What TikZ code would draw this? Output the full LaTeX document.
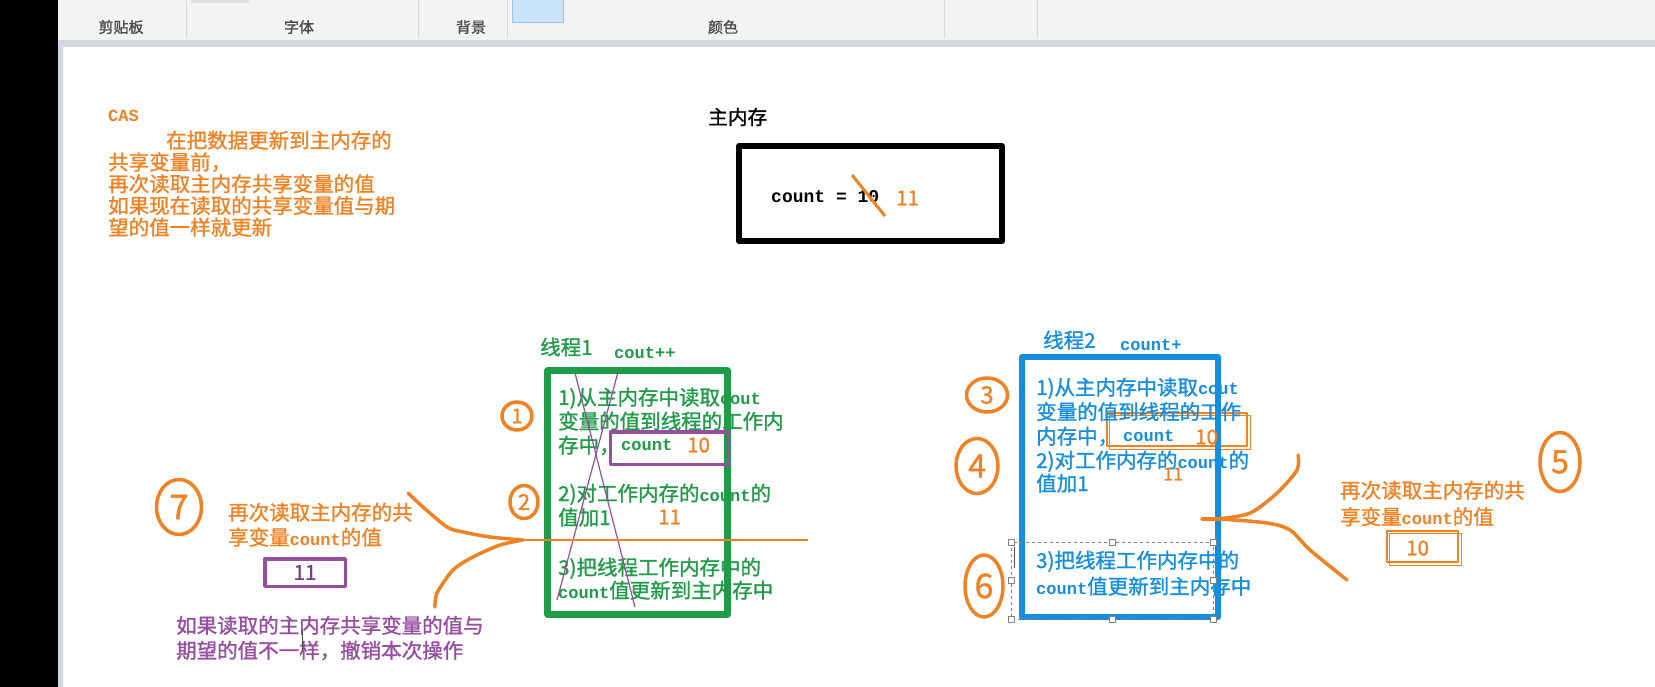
\documentclass[tikz,border=0pt]{standalone}
\usepackage{fontspec}
\setmainfont[FakeBold=1.2]{Noto Sans CJK SC}
\setmonofont[Scale=0.83]{Liberation Mono}
\usetikzlibrary{shapes.geometric}
\definecolor{horange}{RGB}{240,130,35}
\definecolor{tgreen}{RGB}{32,155,72}
\definecolor{tblue}{RGB}{22,142,222}
\definecolor{tpurple}{RGB}{150,78,160}
\definecolor{barfill}{RGB}{243,243,243}
\definecolor{barline}{RGB}{210,216,226}
\definecolor{btnfill}{RGB}{204,228,247}
\definecolor{btnline}{RGB}{150,196,238}
\newcommand\code[1]{\texttt{\bfseries #1}}
\tikzset{
  txt/.style={inner sep=0pt, align=left, anchor=north west, font=\fontsize{20.5}{24}\selectfont},
  lbl/.style={inner sep=0pt, anchor=west, font=\fontsize{20.5}{24}\selectfont},
  hand/.style={ellipse, draw=horange, line width=3.5pt, text=horange, inner sep=0pt, font=\fontsize{26}{26}\selectfont},
  stroke/.style={draw=horange, line width=3.5pt, line cap=round},
  obox/.style={draw=horange, line width=1.2pt, inner sep=0pt},
  handle/.style={draw=gray, fill=white, line width=0.8pt, minimum size=6pt, inner sep=0pt},
}
\begin{document}
\begin{tikzpicture}[x=1pt,y=-1pt,line join=round]
	%==khung ngoai
	\useasboundingbox (0,0) rectangle (1655,687);
	\fill[white] (0,0) rectangle (1655,687);
	\fill[barfill] (58,0) rectangle (1655,40);
	\fill[barline] (58,40) rectangle (1655,47);
	\fill[barline] (58,40) rectangle (63,687);
	\fill[black] (0,0) rectangle (58,687);
	\fill[black!12] (191,0) rectangle (249,3);
	\filldraw[fill=btnfill, draw=btnline] (512,-2) rectangle (563,22);
	\foreach \x in {186,418,507,944,1037} \draw[black!15] (\x,0)--(\x,38);
	\foreach \x/\t in {121/剪贴板,299/字体,471/背景,723/颜色}
		\node[inner sep=0pt, text=black!70, font=\mdseries\fontsize{15}{15}\selectfont] (bar\x) at (\x,27) {\t};
	%==CAS
	\node[lbl, text=horange] (cas) at (108,116) {\code{CAS}};
	\node[txt, text=horange, font=\fontsize{20.5}{21.75}\selectfont] (casbody) at (108,130.5) {\hspace*{58pt}在把数据更新到主内存的\\共享变量前，\\再次读取主内存共享变量的值\\如果现在读取的共享变量值与期\\望的值一样就更新};
	%==main memory
	\node[lbl, font=\fontsize{19.7}{22}\selectfont] (memname) at (708,117) {主内存};
	\node[draw, line width=6pt, minimum width=263pt, minimum height=95pt, inner sep=0pt] (mem) at (870.5,193.5) {};
	\node[lbl, font=\fontsize{21.7}{24}\selectfont] (cnt) at (771,197) {\code{count = 10}};
	\draw[horange, line width=3pt] (852,175)--(885,216);
	\node[lbl, text=horange] (newv) at (896,198) {11};
	%==thread 1
	\node[lbl, text=tgreen] (t1name) at (540,347) {线程1};
	\node[lbl, text=tgreen] (t1op) at (614,353) {\code{cout++}};
	\node[draw=tgreen, line width=6.5pt, minimum width=180pt, minimum height=244pt, inner sep=0pt] (th1) at (637.5,492.5) {};
	\node[txt, text=tgreen] (t1a) at (558,387.5) {1)从主内存中读取\code{cout}\\变量的值到线程的工作内\\存中，};
	\node[draw=tpurple, line width=3.5pt, minimum width=118pt, minimum height=32.5pt, inner sep=0pt] (t1box) at (669.5,448) {};
	\node[lbl, text=tgreen] (t1cnt) at (621,445) {\code{count}};
	\node[lbl, text=horange] (t1v) at (687,445) {10};
	\node[txt, text=tgreen] (t1b) at (558,483.5) {2)对工作内存的\code{count}的\\值加1};
	\node[lbl, text=horange] (t1inc) at (658,517) {11};
	\node[txt, text=tgreen, font=\fontsize{20.5}{23}\selectfont] (t1c) at (558,557.5) {3)把线程工作内存中的\\\code{count}值更新到主内存中};
	\draw[tpurple, line width=1.2pt] (575,373)--(635,607);
	\draw[tpurple, line width=1.2pt] (618,372)--(557,600);
	%==thread 2
	\node[lbl, text=tblue] (t2name) at (1043,340) {线程2};
	\node[lbl, text=tblue] (t2op) at (1120,345) {\code{count+}};
	\node[obox, minimum width=140pt, minimum height=33pt] (t2box) at (1177,429.5) {};
	\draw[horange, line width=1.2pt] ([shift={(3,3)}]t2box.north west) rectangle ([shift={(3,3)}]t2box.south east);
	\node[draw=tblue, line width=6pt, minimum width=196pt, minimum height=260pt, inner sep=0pt] (th2) at (1120,487) {};
	\node[txt, text=tblue, font=\fontsize{20.5}{24.5}\selectfont] (t2a) at (1036,377.5) {1)从主内存中读取\code{cout}\\变量的值到线程的工作\\内存中，};
	\node[lbl, text=tblue] (t2cnt) at (1123,436) {\code{count}};
	\node[lbl, text=horange] (t2v) at (1195,437) {10};
	\node[txt, text=tblue, font=\fontsize{20.5}{23}\selectfont] (t2b) at (1036,450.5) {2)对工作内存的\code{count}的\\值加1};
	\node[lbl, text=horange, font=\fontsize{18}{20}\selectfont] (t2inc) at (1163,474) {11};
	\node[txt, text=tblue, font=\fontsize{20.5}{26}\selectfont] (t2c) at (1036,550.5) {3)把线程工作内存中的\\\code{count}值更新到主内存中};
	\draw[gray, dashed, line width=0.8pt] (1011,542) rectangle (1213,619);
	\foreach \p [count=\i] in {(1011,542),(1112,542),(1213,542),(1011,580),(1213,580),(1011,619),(1112,619),(1213,619)}
		\node[handle] (hd\i) at \p {};
	\draw[black!70, line width=1pt] (1014,547)--(1014,568);
	%==left notes
	\node[txt, text=horange, font=\fontsize{20.5}{25}\selectfont] (re1) at (228,502.5) {再次读取主内存的共\\享变量\code{count}的值};
	\node[draw=tpurple, line width=3.5pt, minimum width=80.5pt, minimum height=27.5pt, inner sep=0pt, text=tpurple!80!black, font=\fontsize{20.5}{24}\selectfont] (old) at (305,572.5) {11};
	\node[txt, text=tpurple, font=\fontsize{20.5}{25}\selectfont] (undo) at (176,615.5) {如果读取的主内存共享变量的值与\\期望的值不一样，撤销本次操作};
	\draw[black!70, line width=1pt] (302,630)--(302,650);
	%==right notes
	\node[txt, text=horange, font=\fontsize{20.5}{26.5}\selectfont] (re2) at (1340,480.5) {再次读取主内存的共\\享变量\code{count}的值};
	\node[obox, minimum width=71pt, minimum height=31pt] (expect) at (1422.5,546.5) {};
	\draw[horange, line width=1.2pt] ([shift={(3,3)}]expect.north west) rectangle ([shift={(3,3)}]expect.south east);
	\node[lbl, text=horange] (ev) at (1406,548) {10};
	%==hand strokes
	\coordinate (fork7) at (523,540);
	\coordinate (lineend) at (808,540);
	\coordinate (fork5) at (1202,519);
	\draw[horange, line width=1.5pt] (fork7)--(lineend);
	\draw[stroke] plot[smooth] coordinates {(408,493) (423,507) (447,527) (463,532) (490,537) (fork7)};
	\draw[stroke] plot[smooth] coordinates {(435,607) (437,593) (453,570) (473,557) (500,545) (fork7)};
	\draw[stroke] plot[smooth] coordinates {(1298,455) (1297,470) (1277,493) (1250,513) (1217,519) (fork5)};
	\draw[stroke] plot[smooth] coordinates {(fork5) (1220,519) (1267,523) (1290,530) (1310,550) (1347,580)};
	\foreach \n/\x/\y/\w/\h/\s in {1/517/416/30/28/20,2/524/502/28/33/22,3/987/395/41/34/24,4/977/466/42/55/32,5/1560/462/40/59/32,6/984/586/38/62/34,7/179/507/45/55/34}
		\node[hand, minimum width=\w pt, minimum height=\h pt, font=\fontsize{\s}{\s}\selectfont] (step\n) at (\x,\y) {\n};
\end{tikzpicture}
\end{document}
